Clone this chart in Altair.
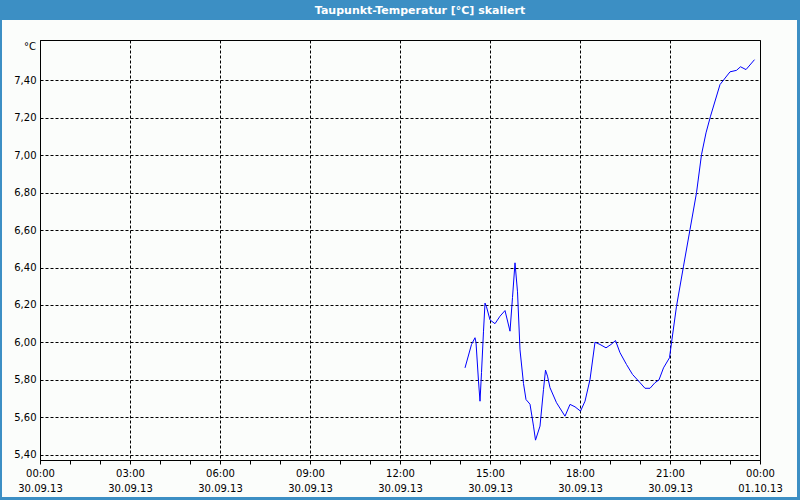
import altair as alt
import pandas as pd

# ---- data ----
times = ["14:10","14:23","14:30","14:32","14:37","14:40","14:43","14:47","14:50","14:53",
         "15:00","15:10","15:20","15:30","15:40","15:45","15:50","15:55","16:00","16:07",
         "16:12","16:20","16:27","16:31","16:40","16:47","16:51","16:55","17:00","17:13",
         "17:30","17:40","17:50","18:01","18:10","18:20","18:30","18:40","18:52","19:02",
         "19:11","19:20","19:33","19:45","19:59","20:10","20:20","20:30","20:38","20:47",
         "20:59","21:03","21:13","21:27","21:40","21:53","22:03","22:12","22:21","22:40",
         "23:00","23:13","23:21","23:32","23:49"]
values = [5.864,5.989,6.025,6.00,5.793,5.686,5.839,6.06,6.21,6.19,
          6.12,6.10,6.14,6.17,6.06,6.24,6.425,6.27,5.96,5.78,
          5.695,5.67,5.553,5.478,5.553,5.749,5.852,5.82,5.758,5.678,
          5.606,5.669,5.656,5.633,5.686,5.802,6.001,5.989,5.971,5.989,
          6.01,5.945,5.882,5.829,5.788,5.755,5.755,5.785,5.80,5.864,
          5.918,5.998,6.193,6.407,6.603,6.799,7.003,7.119,7.208,7.377,
          7.445,7.453,7.472,7.457,7.51]

x_tick_times = ["00:00","03:00","06:00","09:00","12:00","15:00","18:00","21:00","00:00"]
x_tick_dates = ["30.09.13","30.09.13","30.09.13","30.09.13","30.09.13",
                "30.09.13","30.09.13","30.09.13","01.10.13"]
y_ticks = [5.4, 5.6, 5.8, 6.0, 6.2, 6.4, 6.6, 6.8, 7.0, 7.2, 7.4]

title_text = "Taupunkt-Temperatur [°C] skaliert"
unit_text = "°C"

df = pd.DataFrame({
    "hour": [int(t[:2]) + int(t[3:]) / 60 for t in times],
    "value": values,
})
one = pd.DataFrame({"k": [0]})

BLUE = "#3c8fc4"
FONT = "DejaVu Sans"
W, H = 720, 420

times_js = "[" + ",".join("'%s'" % s for s in x_tick_times) + "]"
dates_js = "[" + ",".join("'%s'" % s for s in x_tick_dates) + "]"
label_expr = ("datum.value % 3 == 0 ? [" + times_js + "[datum.value/3], "
              + dates_js + "[datum.value/3]] : ''")

x_axis = alt.Axis(
    values=list(range(0, 25)),
    labelExpr=label_expr,
    grid=True,
    gridDash=[3, 2],
    gridColor="black",
    gridOpacity={"condition": {"test": "datum.value % 3 != 0", "value": 0}, "value": 1},
    tickSize=4,
    tickColor="black",
    domainColor="black",
    labelFont=FONT,
    labelFontSize=10,
    labelColor="black",
    labelPadding=4,
    labelLineHeight=15,
    labelFlush=False,
    labelOverlap=False,
    title=None,
)
y_axis = alt.Axis(
    values=y_ticks,
    labelExpr="replace(format(datum.value, '.2f'), '.', ',')",
    grid=True,
    gridDash=[3, 2],
    gridColor="black",
    ticks=False,
    domainColor="black",
    labelFont=FONT,
    labelFontSize=10,
    labelColor="black",
    labelPadding=4,
    labelOverlap=False,
    title=None,
)

line = alt.Chart(df).mark_line(color="#0000ff", strokeWidth=1).encode(
    x=alt.X("hour:Q", scale=alt.Scale(domain=[0, 24], nice=False, zero=False), axis=x_axis),
    y=alt.Y("value:Q", scale=alt.Scale(domain=[5.372, 7.615], nice=False, zero=False), axis=y_axis),
)

base = alt.Chart(one)
band = base.mark_rect(color=BLUE).encode(
    x=alt.value(-40), x2=alt.value(760), y=alt.value(-40), y2=alt.value(-20))
left_b = base.mark_rect(color=BLUE).encode(
    x=alt.value(-40), x2=alt.value(-38), y=alt.value(-40), y2=alt.value(460))
right_b = base.mark_rect(color=BLUE).encode(
    x=alt.value(757), x2=alt.value(760), y=alt.value(-40), y2=alt.value(460))
bottom_b = base.mark_rect(color=BLUE).encode(
    x=alt.value(-40), x2=alt.value(760), y=alt.value(457), y2=alt.value(460))

title = base.mark_text(color="white", font=FONT, fontSize=11, fontWeight="bold",
                       align="center", baseline="middle").encode(
    x=alt.value(380), y=alt.value(-29.5), text=alt.value(title_text))
unit = base.mark_text(color="black", font=FONT, fontSize=10,
                      align="right", baseline="middle").encode(
    x=alt.value(-4), y=alt.value(7), text=alt.value(unit_text))

chart = alt.layer(line, band, left_b, right_b, bottom_b, title, unit).properties(
    width=W, height=H,
    autosize=alt.AutoSizeParams(type="none"),
    padding={"left": 40, "top": 40, "right": 40, "bottom": 40},
    background="#fbfdfb",
).configure_view(stroke="black", strokeWidth=1)

chart.save("out.html", embed_options={"renderer": "svg", "actions": False})
